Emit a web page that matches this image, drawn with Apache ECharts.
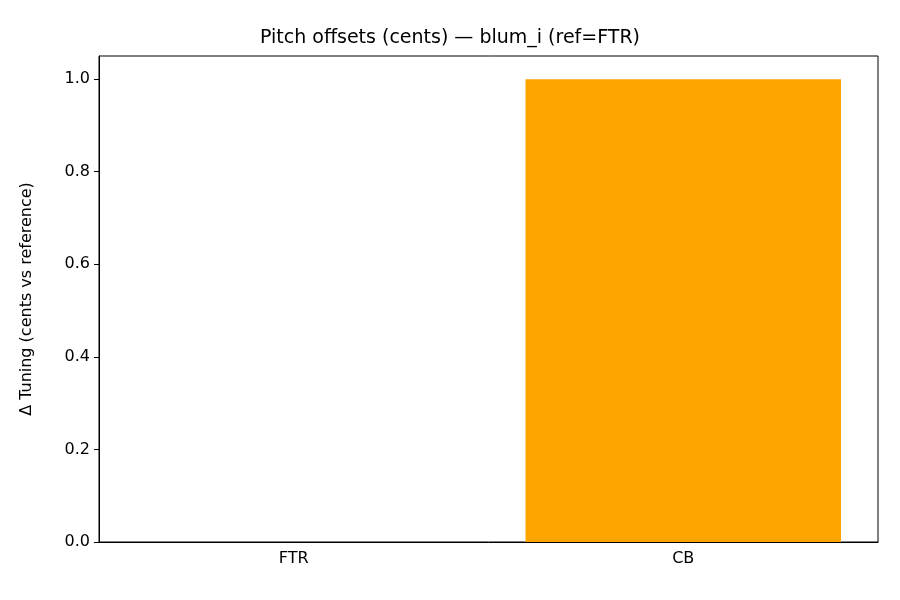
<!DOCTYPE html>
<html>
<head>
<meta charset="utf-8">
<script src="https://cdn.jsdelivr.net/npm/echarts@6/dist/echarts.min.js"></script>
<style>html,body{margin:0;padding:0;background:#fff}#main{width:900px;height:600px}</style>
</head>
<body>
<div id="main"></div>
<script>
// 数据
const categories = ['FTR', 'CB']
const offsets = [0, 1.0]

const myChart = echarts.init(document.querySelector('#main'))
const option = {
  animation: false,
  textStyle: { fontFamily: 'DejaVu Sans' },
  title: {
    text: 'Pitch offsets (cents) — blum_i (ref=FTR)',
    left: 'center',
    top: 24,
    textStyle: { fontSize: 19, fontWeight: 'normal', color: '#000' }
  },
  grid: { left: 99, right: 22, top: 56, bottom: 58, show: true, borderColor: '#000', borderWidth: 1 },
  xAxis: {
    type: 'category',
    data: categories,
    axisLine: { lineStyle: { color: '#000' } },
    axisTick: { alignWithLabel: true, length: 5, lineStyle: { color: '#000' } },
    axisLabel: { color: '#000', fontSize: 16, margin: 9 }
  },
  yAxis: {
    type: 'value',
    min: 0,
    max: 1.05,
    interval: 0.2,
    name: 'Δ Tuning (cents vs reference)',
    nameLocation: 'middle',
    nameGap: 64,
    nameTextStyle: { fontSize: 16, color: '#000' },
    axisLine: { show: true, lineStyle: { color: '#000' } },
    axisTick: { show: true, length: 5, lineStyle: { color: '#000' } },
    splitLine: { show: false },
    axisLabel: {
      color: '#000', fontSize: 16, showMaxLabel: false, margin: 9,
      formatter: v => v.toFixed(1)
    }
  },
  series: [{
    type: 'bar',
    data: offsets,
    barWidth: '81%',
    itemStyle: { color: '#ffa500' }
  }]
}
myChart.setOption(option)
</script>
</body>
</html>
